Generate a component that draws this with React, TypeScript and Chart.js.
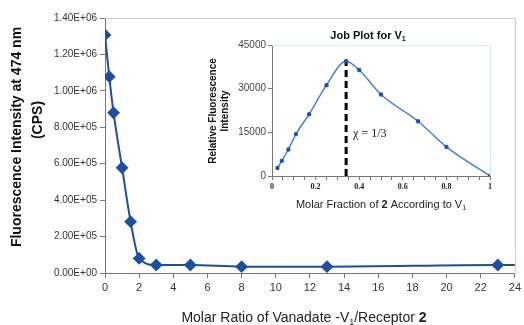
import React, { useEffect, useRef } from "react";
import { Chart, registerables } from "chart.js";

Chart.register(...registerables);

// Main chart data
const mainRatio = [0, 0.25, 0.5, 1, 1.5, 2, 3, 5, 8, 13, 23, 24];
const mainIntensity = [1.307e6, 1.078e6, 0.88e6, 0.578e6, 0.282e6, 0.08e6, 0.044e6, 0.044e6, 0.035e6, 0.035e6, 0.044e6, 0.044e6];
const mainMarker = [true, true, true, true, true, true, true, true, true, true, true, false];

// Inset (Job plot) data
const jobFraction = [0.025, 0.045, 0.075, 0.11, 0.17, 0.25, 0.34, 0.4, 0.5, 0.67, 0.8, 1];
const jobIntensity = [2750, 5200, 9100, 14400, 21200, 31200, 39400, 36400, 28000, 18800, 10000, 0];
const dashFraction = [0.34, 0.34];
const dashIntensity = [0, 40000];

const SANS = 'Arial, "Liberation Sans", Helvetica, sans-serif';
const SERIF = '"Times New Roman", "Liberation Serif", serif';

function sci(v: number): string {
  if (v === 0) return "0.00E+00";
  const e = Math.floor(Math.log10(Math.abs(v)) + 1e-9);
  const m = v / Math.pow(10, e);
  return m.toFixed(2) + "E" + (e >= 0 ? "+" : "-") + String(Math.abs(e)).padStart(2, "0");
}

type Run = { t: string; font: string; dy?: number };
function drawRuns(ctx: CanvasRenderingContext2D, runs: Run[], cx: number, y: number, color: string) {
  ctx.save();
  ctx.fillStyle = color;
  ctx.textBaseline = "alphabetic";
  ctx.textAlign = "left";
  let total = 0;
  for (const r of runs) {
    ctx.font = r.font;
    total += ctx.measureText(r.t).width;
  }
  let x = cx - total / 2;
  for (const r of runs) {
    ctx.font = r.font;
    ctx.fillText(r.t, x, y + (r.dy || 0));
    x += ctx.measureText(r.t).width;
  }
  ctx.restore();
}

const mainDecor = {
  id: "mainDecor",
  afterDraw(chart: any) {
    const ctx = chart.ctx as CanvasRenderingContext2D;
    const a = chart.chartArea;
    ctx.save();
    ctx.strokeStyle = "#c8c8c8";
    ctx.lineWidth = 1;
    ctx.beginPath();
    ctx.moveTo(a.left, a.top + 0.5);
    ctx.lineTo(a.right + 0.5, a.top + 0.5);
    ctx.lineTo(a.right + 0.5, a.bottom);
    ctx.stroke();
    // y title
    ctx.fillStyle = "#111";
    ctx.textAlign = "center";
    ctx.textBaseline = "middle";
    ctx.font = "bold 14px " + SANS;
    ctx.translate(17, 137);
    ctx.rotate(-Math.PI / 2);
    ctx.fillText("Fluorescence Intensity at 474 nm", 0, 0);
    ctx.restore();
    ctx.save();
    ctx.fillStyle = "#111";
    ctx.textAlign = "center";
    ctx.textBaseline = "middle";
    ctx.font = "bold 14px " + SANS;
    ctx.translate(38, 120);
    ctx.rotate(-Math.PI / 2);
    ctx.fillText("(CPS)", 0, 0);
    ctx.restore();
    // x title
    drawRuns(
      ctx,
      [
        { t: "Molar Ratio of Vanadate -V", font: "14px " + SANS },
        { t: "1", font: "9px " + SANS, dy: 3 },
        { t: "/Receptor ", font: "14px " + SANS },
        { t: "2", font: "bold 14px " + SANS },
      ],
      304,
      322,
      "#222"
    );
  },
};

const insetDecor = {
  id: "insetDecor",
  afterDraw(chart: any) {
    const ctx = chart.ctx as CanvasRenderingContext2D;
    const a = chart.chartArea;
    ctx.save();
    ctx.strokeStyle = "#dce8f2";
    ctx.lineWidth = 1;
    ctx.beginPath();
    ctx.moveTo(a.left, a.top + 0.5);
    ctx.lineTo(a.right + 0.5, a.top + 0.5);
    ctx.lineTo(a.right + 0.5, a.bottom);
    ctx.stroke();
    ctx.restore();
    // title
    drawRuns(
      ctx,
      [
        { t: "Job Plot for V", font: "bold 11px " + SANS },
        { t: "1", font: "bold 7px " + SANS, dy: 2 },
      ],
      173,
      17,
      "#111"
    );
    // y title
    ctx.save();
    ctx.fillStyle = "#111";
    ctx.textAlign = "center";
    ctx.textBaseline = "middle";
    ctx.font = "bold 10px " + SANS;
    ctx.translate(18, 89);
    ctx.rotate(-Math.PI / 2);
    ctx.fillText("Relative Fluorescence", 0, 0);
    ctx.fillText("Intensity", 0, 12);
    ctx.restore();
    // x title
    drawRuns(
      ctx,
      [
        { t: "Molar Fraction of ", font: "11px " + SANS },
        { t: "2", font: "bold 11px " + SANS },
        { t: " According to V", font: "11px " + SANS },
        { t: "1", font: "7px " + SANS, dy: 2 },
      ],
      186,
      186,
      "#222"
    );
    // chi annotation
    const xs = chart.scales.x;
    const ys = chart.scales.y;
    ctx.save();
    ctx.fillStyle = "#111";
    ctx.font = "12px " + SERIF;
    ctx.textAlign = "left";
    ctx.textBaseline = "middle";
    ctx.fillText("\u03C7 = 1/3", xs.getPixelForValue(dashFraction[0]) + 7, ys.getPixelForValue(14500));
    ctx.restore();
  },
};

export default function App() {
  const mainRef = useRef<HTMLCanvasElement | null>(null);
  const insetRef = useRef<HTMLCanvasElement | null>(null);

  useEffect(() => {
    const mainChart = new Chart(mainRef.current!, {
      type: "line",
      data: {
        datasets: [
          {
            data: mainRatio.map((x, i) => ({ x, y: mainIntensity[i] })),
            borderColor: "#1d4f9f",
            backgroundColor: "#1d4f9f",
            borderWidth: 2,
            pointStyle: "rectRot",
            pointRadius: mainMarker.map((m) => (m ? 5 : 0)),
            pointBackgroundColor: "#1d4f9f",
            pointBorderColor: "#1d4f9f",
            cubicInterpolationMode: "monotone",
          },
        ],
      },
      options: {
        animation: false,
        responsive: false,
        devicePixelRatio: 1,
        layout: { padding: { left: 0, top: 18, right: 7, bottom: 0 } },
        plugins: { legend: { display: false }, tooltip: { enabled: false } },
        scales: {
          x: {
            type: "linear",
            min: 0,
            max: 24,
            ticks: { stepSize: 2, color: "#333", font: { family: SANS, size: 11 }, padding: 3, maxRotation: 0, autoSkip: false },
            grid: { drawOnChartArea: false, tickLength: 5, color: "#777" },
            border: { color: "#777", width: 1 },
            afterFit: (s: any) => {
              s.height = 52;
            },
          },
          y: {
            min: 0,
            max: 1.4e6,
            ticks: { stepSize: 2e5, color: "#333", font: { family: SANS, size: 10 }, padding: 3, callback: (v: any) => sci(Number(v)) },
            grid: { drawOnChartArea: false, tickLength: 5, color: "#777" },
            border: { color: "#777", width: 1 },
            afterFit: (s: any) => {
              s.width = 105;
            },
          },
        },
      } as any,
      plugins: [mainDecor],
    });

    const insetChart = new Chart(insetRef.current!, {
      type: "line",
      data: {
        datasets: [
          {
            data: jobFraction.map((x, i) => ({ x, y: jobIntensity[i] })),
            borderColor: "#4a7fcf",
            borderWidth: 1.5,
            pointRadius: 2.2,
            pointBackgroundColor: "#1f55a8",
            pointBorderColor: "#1f55a8",
            pointBorderWidth: 0,
            cubicInterpolationMode: "monotone",
          },
          {
            data: dashFraction.map((x, i) => ({ x, y: dashIntensity[i] })),
            borderColor: "#000",
            borderWidth: 3,
            borderDash: [7, 4],
            pointRadius: 0,
          },
        ],
      },
      options: {
        animation: false,
        responsive: false,
        devicePixelRatio: 1,
        layout: { padding: { left: 0, top: 23, right: 10, bottom: 0 } },
        plugins: { legend: { display: false }, tooltip: { enabled: false } },
        scales: {
          x: {
            type: "linear",
            min: 0,
            max: 1,
            ticks: {
              stepSize: 0.05,
              autoSkip: false,
              maxRotation: 0,
              color: "#222",
              font: { family: SERIF, size: 8, weight: "bold" },
              padding: 2,
              callback: (v: any) => {
                const r = Math.round(Number(v) * 100);
                if (r % 20 !== 0) return "";
                if (r === 0) return "0";
                if (r === 100) return "1";
                return (r / 100).toFixed(1);
              },
            },
            grid: { drawOnChartArea: false, tickLength: 4, color: "#777" },
            border: { color: "#777", width: 1 },
            afterFit: (s: any) => {
              s.height = 39;
            },
          },
          y: {
            min: 0,
            max: 45000,
            ticks: { stepSize: 15000, color: "#444", font: { family: SANS, size: 10 }, padding: 2, callback: (v: any) => String(Math.round(Number(v))) },
            grid: { drawOnChartArea: false, tickLength: 4, color: "#777" },
            border: { color: "#777", width: 1 },
            afterFit: (s: any) => {
              s.width = 77;
            },
          },
        },
      } as any,
      plugins: [insetDecor],
    });

    return () => {
      mainChart.destroy();
      insetChart.destroy();
    };
  }, []);

  return (
    <div style={{ position: "fixed", left: 0, top: 0, width: 524, height: 325, background: "#fff" }}>
      <canvas ref={mainRef} width={524} height={325} style={{ position: "absolute", left: 0, top: 0, width: 524, height: 325 }} />
      <canvas ref={insetRef} width={305} height={193} style={{ position: "absolute", left: 195, top: 22, width: 305, height: 193 }} />
    </div>
  );
}
